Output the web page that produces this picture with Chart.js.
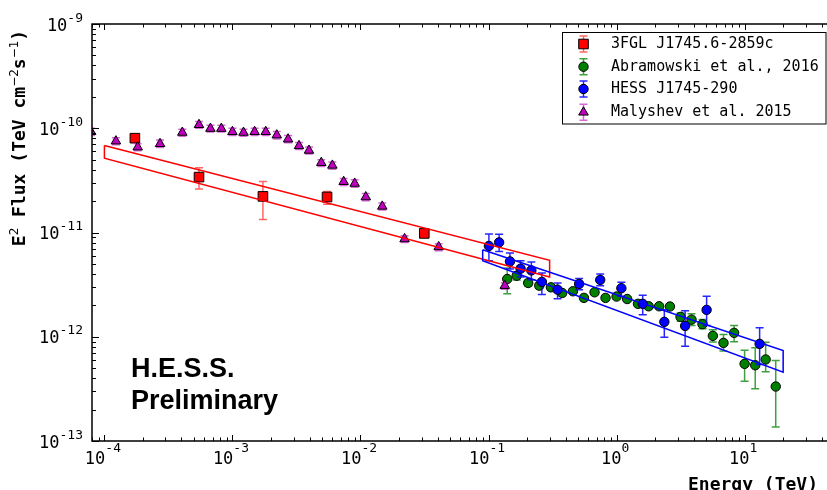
<!DOCTYPE html>
<html>
<head>
<meta charset="utf-8">
<title>SED Galactic Centre</title>
<script src="https://cdn.jsdelivr.net/npm/chart.js@4.4.0/dist/chart.umd.min.js"></script>
<style>
    html, body { margin: 0; padding: 0; background: #ffffff; }
    #wrap { width: 827px; height: 490px; }
</style>
</head>
<body>
<div id="wrap"><canvas id="sed" width="827" height="490"></canvas></div>
<script>
// Axis ranges (log-log)
const xMin = 8e-5, xMax = 44;
const yMin = 1e-13, yMax = 1e-9;
const xTickExp = [-4, -3, -2, -1, 0, 1];
const yTickExp = [-13, -12, -11, -10, -9];

// 3FGL J1745.6-2859c
const fermiE  = [1.73e-4, 5.48e-4, 1.73e-3, 5.48e-3, 3.15e-2];
const fermiF  = [8.03e-11, 3.40e-11, 2.22e-11, 2.19e-11, 9.8e-12];
const fermiHi = [8.4e-11, 4.17e-11, 3.08e-11, 2.48e-11, 1.06e-11];
const fermiLo = [7.7e-11, 2.61e-11, 1.33e-11, 1.87e-11, 9.0e-12];

// Abramowski et al., 2016
const abrE  = [0.14, 0.166, 0.204, 0.249, 0.307, 0.376, 0.456, 0.556, 0.673, 0.82, 1.0, 1.21, 1.47,
               1.78, 2.15, 2.61, 3.16, 3.85, 4.69, 5.65, 6.84, 8.28, 10.0, 12.1, 14.6, 17.5];
const abrF  = [3.58e-12, 3.85e-12, 3.28e-12, 3.09e-12, 2.98e-12, 2.63e-12, 2.73e-12, 2.36e-12, 2.67e-12,
               2.36e-12, 2.43e-12, 2.3e-12, 2.07e-12, 1.96e-12, 1.96e-12, 1.95e-12, 1.55e-12, 1.46e-12,
               1.32e-12, 1.02e-12, 8.73e-13, 1.09e-12, 5.5e-13, 5.33e-13, 6.05e-13, 3.33e-13];
const abrHi = [4.57e-12, 4.2e-12, 3.5e-12, 3.3e-12, 3.15e-12, 2.78e-12, 2.88e-12, 2.49e-12, 2.81e-12,
               2.48e-12, 2.56e-12, 2.42e-12, 2.18e-12, 2.07e-12, 2.07e-12, 2.06e-12, 1.69e-12, 1.66e-12,
               1.46e-12, 1.17e-12, 1.05e-12, 1.28e-12, 7.43e-13, 7.83e-13, 8.85e-13, 5.91e-13];
const abrLo = [2.58e-12, 3.5e-12, 3.05e-12, 2.9e-12, 2.8e-12, 2.48e-12, 2.58e-12, 2.23e-12, 2.53e-12,
               2.24e-12, 2.3e-12, 2.18e-12, 1.96e-12, 1.85e-12, 1.85e-12, 1.84e-12, 1.41e-12, 1.28e-12,
               1.19e-12, 8.9e-13, 7.3e-13, 8.95e-13, 3.75e-13, 3.17e-13, 4.61e-13, 1.36e-13];

// HESS J1745-290
const hessE  = [0.1007, 0.121, 0.147, 0.178, 0.216, 0.261, 0.346, 0.51, 0.745, 1.09, 1.6, 2.36, 3.43, 5.05, 13.1];
const hessF  = [7.43e-12, 8.04e-12, 5.28e-12, 4.5e-12, 4.33e-12, 3.36e-12, 2.83e-12, 3.21e-12, 3.51e-12,
                2.92e-12, 2.07e-12, 1.39e-12, 1.27e-12, 1.81e-12, 8.55e-13];
const hessHi = [9.68e-12, 9.6e-12, 6.35e-12, 5.37e-12, 5.21e-12, 4.09e-12, 3.28e-12, 3.63e-12, 4.0e-12,
                3.33e-12, 2.5e-12, 1.82e-12, 1.78e-12, 2.44e-12, 1.22e-12];
const hessLo = [5.37e-12, 6.59e-12, 4.46e-12, 3.75e-12, 3.53e-12, 2.54e-12, 2.32e-12, 2.83e-12, 3.09e-12,
                2.44e-12, 1.63e-12, 9.9e-13, 8.1e-13, 1.28e-12, 5.42e-13];

// Malyshev et al. 2015
const malE  = [7.87e-5, 1.23e-4, 1.82e-4, 2.72e-4, 4.06e-4, 5.48e-4, 6.73e-4, 8.19e-4, 1.0e-3, 1.22e-3,
               1.49e-3, 1.82e-3, 2.22e-3, 2.72e-3, 3.31e-3, 3.96e-3, 4.94e-3, 6.03e-3, 7.39e-3, 9.01e-3,
               1.10e-2, 1.48e-2, 2.21e-2, 4.08e-2, 0.134];
const malF  = [9.25e-11, 7.52e-11, 6.59e-11, 7.1e-11, 9.1e-11, 1.08e-10, 9.93e-11, 9.93e-11, 9.25e-11, 9.1e-11,
               9.25e-11, 9.25e-11, 8.59e-11, 7.85e-11, 6.78e-11, 6.12e-11, 4.67e-11, 4.4e-11, 3.07e-11, 2.95e-11,
               2.19e-11, 1.78e-11, 8.67e-12, 7.27e-12, 3.09e-12];
const malHi = [1.0e-10, 8.1e-11, 7.1e-11, 7.7e-11, 9.8e-11, 1.16e-10, 1.07e-10, 1.07e-10, 1.0e-10, 9.8e-11,
               1.0e-10, 1.0e-10, 9.3e-11, 8.5e-11, 7.3e-11, 6.6e-11, 5.0e-11, 4.75e-11, 3.3e-11, 3.2e-11,
               2.36e-11, 1.92e-11, 9.3e-12, 7.8e-12, 3.3e-12];
const malLo = [8.5e-11, 6.95e-11, 6.1e-11, 6.55e-11, 8.4e-11, 1.0e-10, 9.2e-11, 9.2e-11, 8.5e-11, 8.4e-11,
               8.5e-11, 8.5e-11, 7.9e-11, 7.25e-11, 6.25e-11, 5.65e-11, 4.3e-11, 4.05e-11, 2.83e-11, 2.72e-11,
               2.02e-11, 1.64e-11, 8.0e-12, 6.7e-12, 2.85e-12];

// Fit bands (start / end energy, upper and lower flux edge)
const fermiBandE  = [1e-4, 0.3];
const fermiBandHi = [6.82e-11, 5.4e-12];
const fermiBandLo = [5.17e-11, 3.75e-12];
const hessBandE   = [0.09, 20];
const hessBandHi  = [6.84e-12, 7.38e-13];
const hessBandLo  = [5.37e-12, 4.57e-13];

const legendLabels = ['3FGL J1745.6-2859c', 'Abramowski et al., 2016', 'HESS J1745-290', 'Malyshev et al. 2015'];

const RED = '#ff0000', GREEN = '#008000', BLUE = '#0000ff', MAGENTA = '#bf00bf';
const MONO = '"DejaVu Sans Mono", monospace';

function toPoints(xs, ys) {
    return xs.map((x, i) => ({ x: x, y: ys[i] }));
}

function bandPoints(e, hi, lo) {
    return [
        { x: e[0], y: hi[0] }, { x: e[1], y: hi[1] },
        { x: e[1], y: lo[1] }, { x: e[0], y: lo[0] }, { x: e[0], y: hi[0] }
    ];
}

// Error bars drawn just below each dataset's markers
const errorBars = {
    id: 'errorBars',
    beforeDatasetDraw(chart, args) {
        const ds = chart.data.datasets[args.index];
        if (!ds.errLo) return;
        const ctx = chart.ctx, xs = chart.scales.x, ys = chart.scales.y, a = chart.chartArea;
        ctx.save();
        ctx.beginPath();
        ctx.rect(a.left, a.top, a.right - a.left, a.bottom - a.top);
        ctx.clip();
        ctx.strokeStyle = ds.errColor;
        ctx.lineWidth = 1.5;
        ds.data.forEach((p, i) => {
            const x = xs.getPixelForValue(p.x);
            const y1 = ys.getPixelForValue(ds.errLo[i]);
            const y2 = ys.getPixelForValue(ds.errHi[i]);
            ctx.beginPath();
            ctx.moveTo(x, y1); ctx.lineTo(x, y2);
            ctx.moveTo(x - 4, y1); ctx.lineTo(x + 4, y1);
            ctx.moveTo(x - 4, y2); ctx.lineTo(x + 4, y2);
            ctx.stroke();
        });
        ctx.restore();
    }
};

function drawRich(ctx, parts, x, y) {
    parts.forEach(p => {
        ctx.font = p.font;
        ctx.fillText(p.text, x, y + (p.dy || 0));
        x += ctx.measureText(p.text).width;
    });
}

function richWidth(ctx, parts) {
    let w = 0;
    parts.forEach(p => { ctx.font = p.font; w += ctx.measureText(p.text).width; });
    return w;
}

function drawMarker(ctx, style, x, y, fill) {
    ctx.fillStyle = fill;
    ctx.strokeStyle = '#000';
    ctx.lineWidth = 1;
    ctx.beginPath();
    if (style === 'rect') {
        ctx.rect(x - 4.8, y - 4.8, 9.6, 9.6);
    } else if (style === 'triangle') {
        ctx.moveTo(x, y - 5.5);
        ctx.lineTo(x + 4.8, y + 2.75);
        ctx.lineTo(x - 4.8, y + 2.75);
        ctx.closePath();
    } else {
        ctx.arc(x, y, 4.7, 0, Math.PI * 2);
    }
    ctx.fill();
    ctx.stroke();
}

// Frame, inward log ticks, tick labels, titles, legend, watermark
const frame = {
    id: 'frame',
    afterDatasetsDraw(chart) {
        const ctx = chart.ctx, a = chart.chartArea;
        const xs = chart.scales.x, ys = chart.scales.y;
        ctx.save();
        // left, top and bottom spines (the right one lies past the picture edge)
        ctx.strokeStyle = '#000';
        ctx.lineWidth = 1.5;
        ctx.beginPath();
        ctx.moveTo(a.right + 2, a.top); ctx.lineTo(a.left, a.top);
        ctx.lineTo(a.left, a.bottom); ctx.lineTo(a.right + 2, a.bottom);
        ctx.stroke();

        ctx.lineWidth = 1;
        ctx.beginPath();
        for (let d = -5; d <= 2; d++) {
            for (let m = 1; m <= 9; m++) {
                const v = m * Math.pow(10, d);
                if (v < xMin || v > xMax) continue;
                const len = m === 1 ? 6 : 3.5;
                const px = Math.round(xs.getPixelForValue(v)) + 0.5;
                ctx.moveTo(px, a.bottom); ctx.lineTo(px, a.bottom - len);
                ctx.moveTo(px, a.top); ctx.lineTo(px, a.top + len);
            }
        }
        for (let d = -13; d <= -9; d++) {
            for (let m = 1; m <= 9; m++) {
                const v = m * Math.pow(10, d);
                if (v < yMin || v > yMax * 1.0001) continue;
                const len = m === 1 ? 7 : 4;
                const py = Math.round(ys.getPixelForValue(v)) + 0.5;
                ctx.moveTo(a.left, py); ctx.lineTo(a.left + len, py);
            }
        }
        ctx.stroke();

        ctx.fillStyle = '#000';
        ctx.textBaseline = 'alphabetic';
        ctx.textAlign = 'left';
        const baseFont = '17px ' + MONO, supFont = '13px ' + MONO;
        xTickExp.forEach(k => {
            const parts = [{ text: '10', font: baseFont }, { text: String(k), font: supFont, dy: -12 }];
            const px = xs.getPixelForValue(Math.pow(10, k));
            drawRich(ctx, parts, px - richWidth(ctx, parts) / 2 - 1.5, 463.5);
        });
        yTickExp.forEach(k => {
            const parts = [{ text: '10', font: baseFont }, { text: String(k), font: supFont, dy: -9 }];
            const py = ys.getPixelForValue(Math.pow(10, k));
            drawRich(ctx, parts, 83 - richWidth(ctx, parts), py + 6.7);
        });

        // axis titles
        const tFont = 'bold 18px ' + MONO, sFont = '12px "DejaVu Sans", sans-serif';
        ctx.font = tFont;
        ctx.textAlign = 'center';
        ctx.fillText('Energy (TeV)', 753, 490);
        ctx.textAlign = 'left';
        const yParts = [
            { text: 'E', font: tFont }, { text: '2', font: sFont, dy: -7 },
            { text: ' Flux (TeV cm', font: tFont }, { text: '\u22122', font: sFont, dy: -7 },
            { text: 's', font: tFont }, { text: '\u22121', font: sFont, dy: -7 },
            { text: ')', font: tFont }
        ];
        ctx.save();
        ctx.translate(25, 138);
        ctx.rotate(-Math.PI / 2);
        drawRich(ctx, yParts, -richWidth(ctx, yParts) / 2, 0);
        ctx.restore();

        // watermark
        ctx.font = 'bold 27px "Liberation Sans", Arial, sans-serif';
        ctx.fillText('H.E.S.S.', 131, 377);
        ctx.fillText('Preliminary', 131, 408.5);

        // legend
        ctx.fillStyle = '#fff';
        ctx.fillRect(562.5, 32.5, 263.5, 91.5);
        ctx.strokeStyle = '#000';
        ctx.lineWidth = 1;
        ctx.strokeRect(562.5, 32.5, 263.5, 91.5);
        const legStyles = ['rect', 'circle', 'circle', 'triangle'];
        const legFill = [RED, GREEN, BLUE, MAGENTA];
        const legErr = ['rgba(255,0,0,0.6)', 'rgba(0,128,0,0.75)', 'rgba(0,0,255,0.85)', 'rgba(191,0,191,0.6)'];
        const rowY = [44, 66.7, 89, 112.3];
        legendLabels.forEach((label, i) => {
            const mx = 583.5, my = rowY[i];
            ctx.strokeStyle = legErr[i];
            ctx.lineWidth = 1.5;
            ctx.beginPath();
            ctx.moveTo(mx, my - 8); ctx.lineTo(mx, my + 8);
            ctx.moveTo(mx - 4, my - 8); ctx.lineTo(mx + 4, my - 8);
            ctx.moveTo(mx - 4, my + 8); ctx.lineTo(mx + 4, my + 8);
            ctx.stroke();
            drawMarker(ctx, legStyles[i], mx, my, legFill[i]);
            ctx.fillStyle = '#000';
            ctx.font = '15px ' + MONO;
            ctx.textBaseline = 'middle';
            ctx.fillText(label, 611, my);
        });
        ctx.restore();
    }
};

const pointDefaults = { borderColor: '#000', borderWidth: 1, showLine: false, clip: 0 };

new Chart(document.getElementById('sed'), {
    type: 'scatter',
    data: {
        datasets: [
            Object.assign({
                label: legendLabels[0], data: toPoints(fermiE, fermiF), errLo: fermiLo, errHi: fermiHi,
                errColor: 'rgba(255,0,0,0.6)', pointStyle: 'rect', pointRadius: 6.8, backgroundColor: RED, order: 6
            }, pointDefaults),
            Object.assign({
                label: legendLabels[1], data: toPoints(abrE, abrF), errLo: abrLo, errHi: abrHi,
                errColor: 'rgba(0,128,0,0.75)', pointStyle: 'circle', pointRadius: 4.7, backgroundColor: GREEN, order: 5
            }, pointDefaults),
            Object.assign({
                label: legendLabels[2], data: toPoints(hessE, hessF), errLo: hessLo, errHi: hessHi,
                errColor: 'rgba(0,0,255,0.85)', pointStyle: 'circle', pointRadius: 4.7, backgroundColor: BLUE, order: 4
            }, pointDefaults),
            Object.assign({
                label: legendLabels[3], data: toPoints(malE, malF), errLo: malLo, errHi: malHi,
                errColor: 'rgba(191,0,191,0.6)', pointStyle: 'triangle', pointRadius: 5.5, backgroundColor: MAGENTA, order: 3
            }, pointDefaults),
            {
                label: 'fermi band', data: bandPoints(fermiBandE, fermiBandHi, fermiBandLo), showLine: true,
                borderColor: RED, borderWidth: 1.5, pointRadius: 0, fill: false, tension: 0, order: 2, clip: 0
            },
            {
                label: 'hess band', data: bandPoints(hessBandE, hessBandHi, hessBandLo), showLine: true,
                borderColor: BLUE, borderWidth: 1.5, pointRadius: 0, fill: false, tension: 0, order: 1, clip: 0
            }
        ]
    },
    options: {
        responsive: false,
        devicePixelRatio: 1,
        animation: false,
        layout: { autoPadding: false, padding: { left: 92, top: 24, right: 0, bottom: 49 } },
        plugins: { legend: { display: false }, tooltip: { enabled: false } },
        scales: {
            x: { type: 'logarithmic', min: xMin, max: xMax, display: false },
            y: { type: 'logarithmic', min: yMin, max: yMax, display: false }
        }
    },
    plugins: [errorBars, frame]
});
</script>
</body>
</html>
